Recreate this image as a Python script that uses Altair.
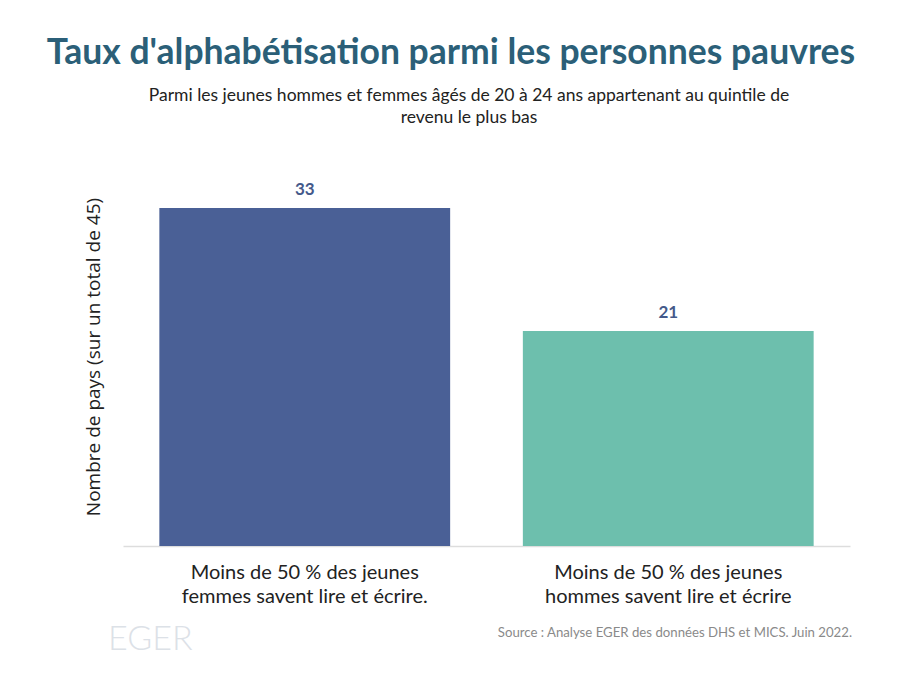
import altair as alt
import pandas as pd

categories = [
    "Moins de 50 % des jeunes|femmes savent lire et écrire.",
    "Moins de 50 % des jeunes|hommes savent lire et écrire",
]
values = [33, 21]
bar_colors = ["#4a6096", "#6dbfad"]

title_text = "Taux d'alphabétisation parmi les personnes pauvres"
subtitle_text = "Parmi les jeunes hommes et femmes âgés de 20 à 24 ans appartenant au quintile de\nrevenu le plus bas"
y_title = "Nombre de pays (sur un total de 45)"
source_text = "Source : Analyse EGER des données DHS et MICS. Juin 2022."
logo_text = "EGER"

df = pd.DataFrame({"cat": categories, "val": values})

x_enc = alt.X(
    "cat:N",
    sort=None,
    scale=alt.Scale(paddingInner=0.2, paddingOuter=0.1),
    axis=alt.Axis(
        title=None,
        labelAngle=0,
        labelExpr="split(datum.label, '|')",
        labelLimit=0,
        labelFont="Lato",
        labelFontSize=20,
        labelLineHeight=24,
        labelColor="#222222",
        labelPadding=16,
        ticks=False,
        domainColor="#dddddd",
        domainWidth=1.5,
        grid=False,
    ),
)
y_enc = alt.Y(
    "val:Q",
    scale=alt.Scale(domain=[0, 37], nice=False),
    axis=alt.Axis(
        title=y_title,
        labels=False,
        ticks=False,
        domain=False,
        grid=False,
        titleFont="Open Sans",
        titleFontSize=19,
        titleFontWeight="normal",
        titleColor="#222222",
        titlePadding=20,
    ),
)

base = alt.Chart(df)
bars = base.mark_bar().encode(
    x=x_enc,
    y=y_enc,
    color=alt.Color("cat:N", scale=alt.Scale(domain=categories, range=bar_colors), legend=None),
)
labels = base.mark_text(
    baseline="bottom", dy=-9, font="Lato", fontSize=17, fontWeight="bold", color="#44598a"
).encode(x=x_enc, y=y_enc, text="val:Q")

ann = alt.Chart(pd.DataFrame({"a": [0]}))
title = ann.mark_text(
    text=title_text, font="Lato", fontSize=35.5, fontWeight="bold", color="#2b5f78",
    align="center", baseline="alphabetic",
).encode(x=alt.value(328), y=alt.value(-103))
subtitle = ann.mark_text(
    text=subtitle_text, lineBreak="\n", lineHeight=22, font="Lato", fontSize=17.5,
    color="#222222", align="center", baseline="alphabetic",
).encode(x=alt.value(346), y=alt.value(-66))
source = ann.mark_text(
    text=source_text, font="Lato", fontSize=13.2, color="#8a8a8a", align="right", baseline="alphabetic",
).encode(x=alt.value(729), y=alt.value(470))
logo = ann.mark_text(
    text=logo_text, font="Lato", fontSize=34, fontWeight=300, color="#dce1e7", align="left", baseline="alphabetic",
).encode(x=alt.value(-15), y=alt.value(483))

chart = (
    alt.layer(bars, labels, title, subtitle, source, logo)
    .properties(
        width=727,
        height=379,
        autosize=alt.AutoSizeParams(type="none"),
        padding={"left": 115, "top": 159, "right": 35, "bottom": 129},
        background="white",
    )
    .configure_view(stroke=None)
)

chart.save("out.html", embed_options={"renderer": "svg", "actions": False})
